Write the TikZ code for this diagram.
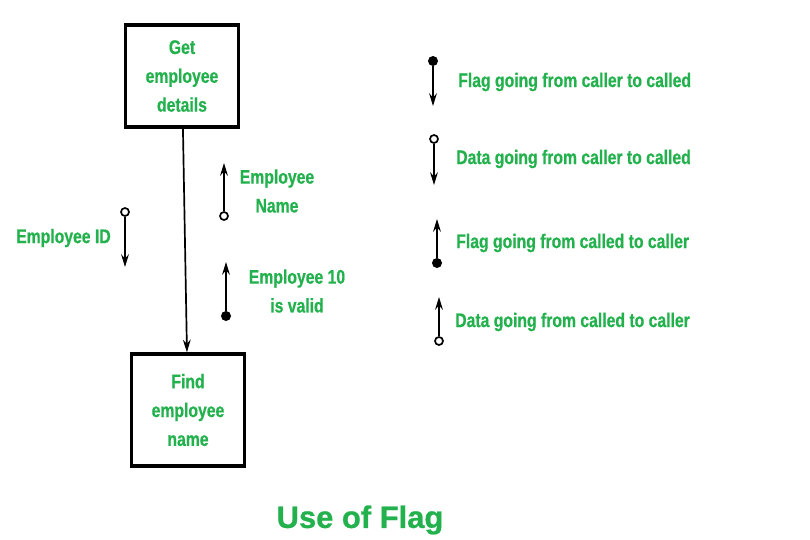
\documentclass[tikz,border=0pt]{standalone}
\usepackage{fontspec}
\setmainfont{Liberation Sans}[FakeStretch=0.8, FakeBold=0.6]
\newfontfamily\titlefont{Liberation Sans}[FakeBold=0.8]
\usepackage{tikz}
\usetikzlibrary{arrows, arrows.meta, positioning, calc}
\definecolor{flaggreen}{RGB}{34,177,76}
\tikzstyle{module} = [rectangle, minimum width=2.75cm, line width=2.4pt, draw=black, text=flaggreen, text width=2.6cm, align=center, font=\bfseries\fontsize{14}{20.5}\selectfont]
\tikzstyle{lbl} = [inner sep=0pt, text=flaggreen, font=\bfseries\fontsize{14}{20.5}\selectfont]
\tikzstyle{flagdot} = [circle, fill=black, inner sep=0pt, minimum size=0.25cm]
\tikzstyle{datadot} = [circle, draw=black, fill=white, line width=1.2pt, inner sep=0pt, minimum size=0.2cm]
\tikzstyle{arrow} = [line width=1.2pt,->,>={Stealth[length=9pt,width=5.5pt]}]

\begin{document}
\begin{tikzpicture}[x=0.025cm, y=-0.025cm]
			\useasboundingbox (0,0) rectangle (810,540);
			
			\node (get) [module, minimum height=2.55cm] at (182,76) {Get\\employee\\details};
			\node (find) [module, minimum height=2.8cm] at (188,410) {Find\\employee\\name};
			\draw [arrow] (get) -- (find);
			
			% data going down: employee id
			\node (iddot) [datadot] at (125,212) {};
			\coordinate (idtip) at (125,267);
			\draw [arrow] (iddot) -- (idtip);
			\node (idlbl) [lbl, anchor=east] at (111,238) {Employee ID};
			
			% data going up: employee name
			\node (namedot) [datadot] at (224,216) {};
			\coordinate (nametip) at (224,163);
			\draw [arrow] (namedot) -- (nametip);
			\node (namelbl) [lbl, align=center] at (277,191) {Employee\\Name};
			
			% flag going up: valid
			\node (validdot) [flagdot] at (226,316) {};
			\coordinate (validtip) at (226,262);
			\draw [arrow] (validdot) -- (validtip);
			\node (validlbl) [lbl, align=center] at (297,291) {Employee 10\\is valid};
			
			% legend
			\node (leg1dot) [flagdot] at (433,61) {};
			\coordinate (leg1tip) at (433,106);
			\draw [arrow] (leg1dot) -- (leg1tip);
			\node (leg1) [lbl, anchor=west] at (458,82) {Flag going from caller to called};
			
			\node (leg2dot) [datadot] at (434,139) {};
			\coordinate (leg2tip) at (434,185);
			\draw [arrow] (leg2dot) -- (leg2tip);
			\node (leg2) [lbl, anchor=west] at (456,159) {Data going from caller to called};
			
			\node (leg3dot) [flagdot] at (437,263) {};
			\coordinate (leg3tip) at (437,219);
			\draw [arrow] (leg3dot) -- (leg3tip);
			\node (leg3) [lbl, anchor=west] at (456,243) {Flag going from called to caller};
			
			\node (leg4dot) [datadot] at (439,341) {};
			\coordinate (leg4tip) at (439,297);
			\draw [arrow] (leg4dot) -- (leg4tip);
			\node (leg4) [lbl, anchor=west] at (455,322) {Data going from called to caller};
			
			\node (title) [lbl, font=\titlefont\bfseries\fontsize{22}{26}\selectfont] at (360,520) {Use of Flag};
\end{tikzpicture}
\end{document}
